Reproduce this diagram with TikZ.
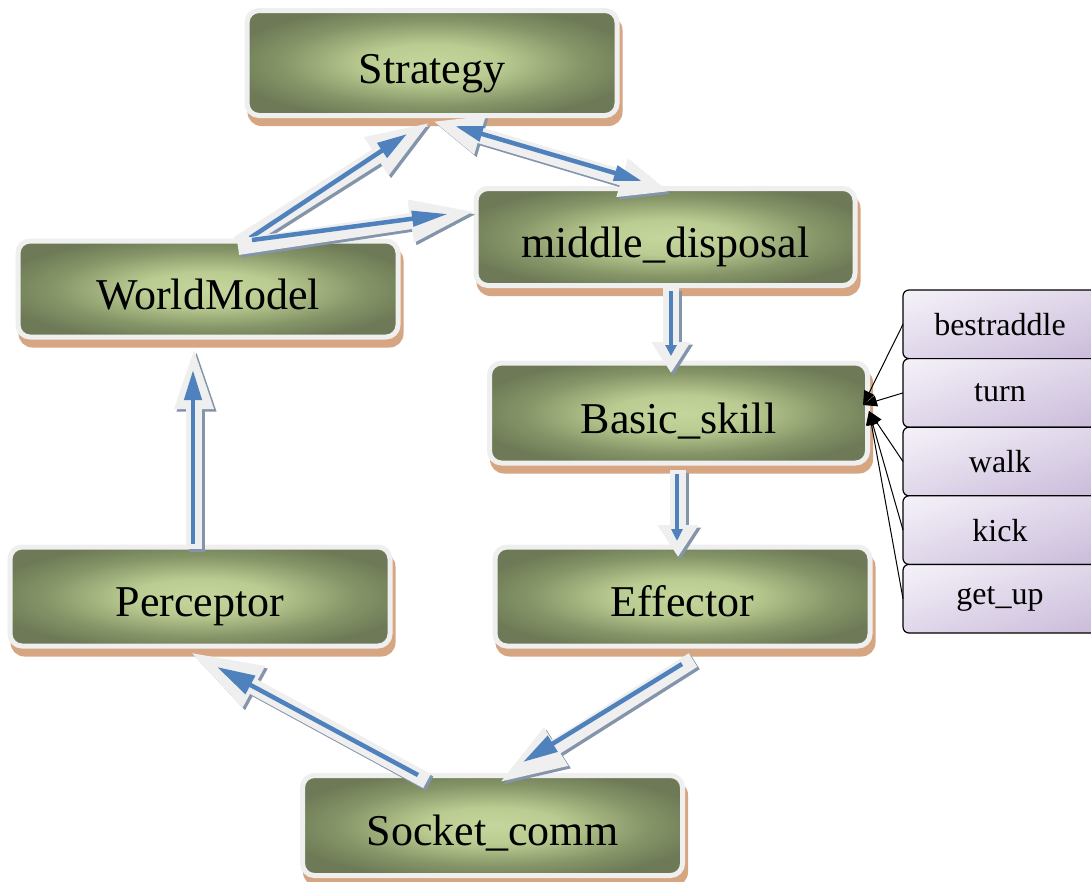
\documentclass[tikz,border=0pt]{standalone}
\usepackage{fontspec}
\setmainfont{Liberation Serif}
\usetikzlibrary{arrows.meta,backgrounds,calc,shadings}
\pgfdeclareradialshading{greenshade}{\pgfpoint{0bp}{0bp}}{rgb(0bp)=(0.77,0.84,0.61); rgb(9bp)=(0.73,0.80,0.57); rgb(20bp)=(0.53,0.59,0.41); rgb(28bp)=(0.43,0.48,0.34); rgb(50bp)=(0.43,0.48,0.34)}
\definecolor{rim}{HTML}{EFEFEF}
\definecolor{tanc}{HTML}{D6A582}
\definecolor{arrblue}{HTML}{4F81BD}
\definecolor{arrshadow}{HTML}{8494AA}
\definecolor{lavA}{HTML}{F5F2F9}
\definecolor{lavB}{HTML}{CABBDA}
\definecolor{lavM}{HTML}{E0D7EA}
\tikzset{
  gbox/.style n args={2}{shape=rectangle, rounded corners=12pt, draw=rim, line width=5pt,
    shade, shading=greenshade, minimum width=#1, minimum height=#2, inner sep=0pt, outer sep=0pt,
    text height=40pt, text depth=0pt, font=\fontsize{44}{48}\selectfont},
  sbox/.style={shape=rectangle, draw=black, line width=1.2pt, rounded corners=6pt,
    minimum width=194pt, minimum height=68.6pt, inner sep=0pt, outer sep=0pt,
    shade, upper left=lavA, lower right=lavB, upper right=lavM, lower left=lavM,
    font=\fontsize{32}{35}\selectfont},
  tanshadow/.style={fill=tanc, rounded corners=14pt},
  glowshadow/.style={line width=16pt, draw=arrshadow, fill=arrshadow, transform canvas={xshift=2.5pt,yshift=-2.5pt}},
  glowfill/.style={line width=16pt, draw=rim, fill=rim},
  bluearrow/.style={line width=4.5pt, draw=arrblue, fill=arrblue},
  sidearr/.style={line width=1pt, draw=black, -{Triangle[length=14pt,width=11pt]}}
}
\newcommand\blockarrow[6]{%
  \draw[glowshadow,#5] (#1) -- (#2);
  \draw[glowfill,#5] (#1) -- (#2);
  \draw[bluearrow,#6] (#3) -- (#4);}
\begin{document}
\begin{tikzpicture}[x=1pt,y=-1pt]
\useasboundingbox (0,0) rectangle (1091,881);

% main boxes
\node[gbox={370pt}{105pt}] (strat) at (432,63) {Strategy};
\node[gbox={379pt}{97pt}] (mid) at (665.5,237) {middle\_disposal};
\node[gbox={380pt}{96pt}] (wm) at (208,289) {WorldModel};
\node[gbox={378pt}{100pt}] (basic) at (678.5,413) {Basic\_skill};
\node[gbox={380pt}{99pt}] (perc) at (200,596.5) {Perceptor};
\node[gbox={375pt}{99pt}] (eff) at (682.5,596.5) {Effector};
\node[gbox={380pt}{100pt}] (sock) at (492.5,825.5) {Socket\_comm};

\begin{scope}[on background layer]
  \fill[white] (0,0) rectangle (1091,881);
  \foreach \n in {strat,mid,wm,basic,perc,eff,sock}{
    \fill[tanshadow] ([shift={(0.5,5.5)}]\n.north west) rectangle ([shift={(5.5,10.5)}]\n.south east);
  }
\end{scope}

% side boxes
\node[sbox] (bestr) at (1000,324.3) {bestraddle};
\node[sbox] (turn) at (1000,392.9) {turn};
\node[sbox] (walk) at (1000,461.5) {walk};
\node[sbox] (kick) at (1000,530.1) {kick};
\node[sbox] (getup) at (1000,598.7) {get\_up};

% arrow end points
\coordinate (a1g0) at (238,244); \coordinate (a1g1) at (432,121);
\coordinate (a1b0) at (250,238); \coordinate (a1b1) at (407,134);
\coordinate (a2g0) at (432,121); \coordinate (a2g1) at (670,192);
\coordinate (a2b0) at (455,126); \coordinate (a2b1) at (642,181);
\coordinate (a3g0) at (238,247); \coordinate (a3g1) at (478,211);
\coordinate (a3b0) at (252,240); \coordinate (a3b1) at (448,214);
\coordinate (a4g0) at (671,288); \coordinate (a4g1) at (671,373);
\coordinate (a4b0) at (671,291); \coordinate (a4b1) at (671,356);
\coordinate (a5g0) at (678,470); \coordinate (a5g1) at (678,557);
\coordinate (a5b0) at (677,474); \coordinate (a5b1) at (677,541);
\coordinate (a6g0) at (194,549); \coordinate (a6g1) at (194,343);
\coordinate (a6b0) at (193,544); \coordinate (a6b1) at (193,370);
\coordinate (a7g0) at (427,781); \coordinate (a7g1) at (188,651);
\coordinate (a7b0) at (418,775); \coordinate (a7b1) at (217,667);
\coordinate (a8g0) at (693,660); \coordinate (a8g1) at (497,784);
\coordinate (a8b0) at (682,664); \coordinate (a8b1) at (523,762);

\blockarrow{a1g0}{a1g1}{a1b0}{a1b1}{-{Triangle[length=66pt,width=40pt]}}{-{Triangle[length=30pt,width=17pt]}}
\blockarrow{a2g0}{a2g1}{a2b0}{a2b1}{{Triangle[length=50pt,width=36pt]}-{Triangle[length=50pt,width=36pt]}}{{Triangle[length=28pt,width=15pt]}-{Triangle[length=28pt,width=15pt]}}
\blockarrow{a3g0}{a3g1}{a3b0}{a3b1}{-{Triangle[length=68pt,width=38pt]}}{-{Triangle[length=36pt,width=15pt]}}
\blockarrow{a4g0}{a4g1}{a4b0}{a4b1}{-{Triangle[length=31pt,width=37pt]}}{-{Triangle[length=11pt,width=11pt]}}
\blockarrow{a5g0}{a5g1}{a5b0}{a5b1}{-{Triangle[length=32pt,width=39pt]}}{-{Triangle[length=12pt,width=11pt]}}
\blockarrow{a6g0}{a6g1}{a6b0}{a6b1}{-{Triangle[length=66pt,width=34pt]}}{-{Triangle[length=30pt,width=17pt]}}
\blockarrow{a7g0}{a7g1}{a7b0}{a7b1}{-{Triangle[length=75pt,width=42pt]}}{-{Triangle[length=38pt,width=20pt]}}
\blockarrow{a8g0}{a8g1}{a8b0}{a8b1}{-{Triangle[length=70pt,width=40pt]}}{-{Triangle[length=35pt,width=18pt]}}

% side connectors
\coordinate (hA) at (863,405);
\coordinate (hB) at (869,411);
\draw[sidearr] (bestr.west) -- (hA);
\draw[sidearr] (turn.west) -- (hA);
\draw[sidearr] (walk.west) -- (hB);
\draw[sidearr] (kick.west) -- (hB);
\draw[sidearr] (getup.west) -- (hB);
\end{tikzpicture}
\end{document}
